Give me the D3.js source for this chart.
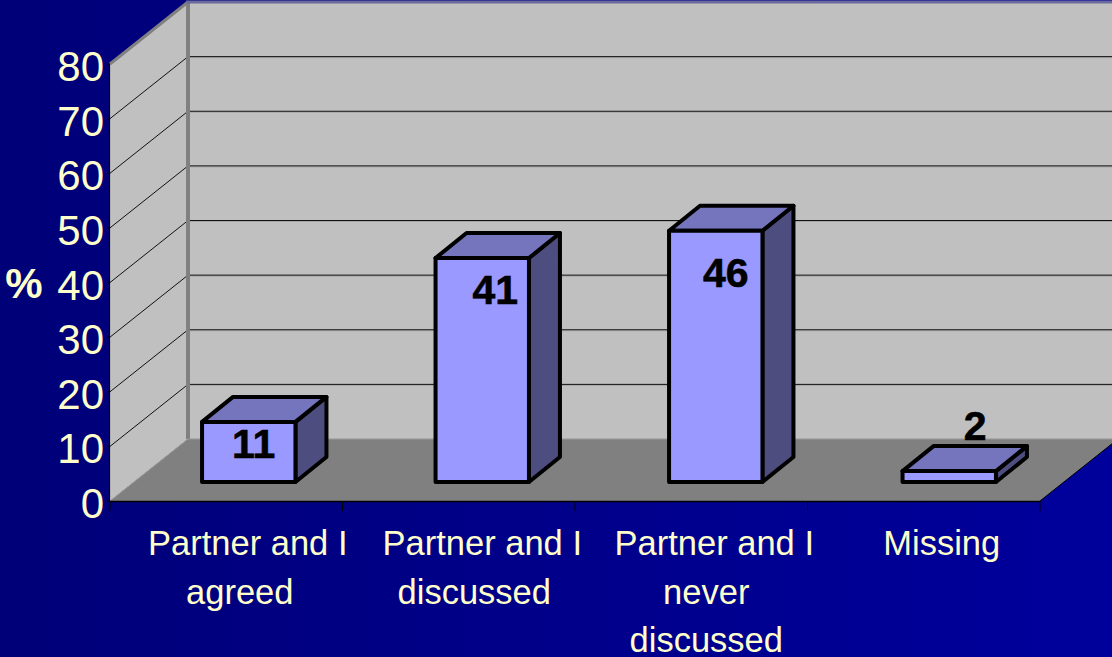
<!DOCTYPE html>
<html><head><meta charset="utf-8">
<script src="https://cdn.jsdelivr.net/npm/d3@7/dist/d3.min.js"></script>
<style>html,body{margin:0;padding:0;background:#000080;overflow:hidden}svg{display:block}text{font-family:"Liberation Sans",Arial,sans-serif}</style>
</head><body><div id="c"></div>
<script>
const categories = [["Partner and I","agreed"],["Partner and I","discussed"],["Partner and I","never","discussed"],["Missing"]];
const values = [11,41,46,2];
const valueLabels = ["11","41","46","2"];
const yTicks = [0,10,20,30,40,50,60,70,80];
const yAxisTitle = "%";

(function(){
const W=1112,H=657;
const svg=d3.select("#c").append("svg").attr("width",W).attr("height",H);
const defs=svg.append("defs");
const g=defs.append("linearGradient").attr("id","bg").attr("x1",0).attr("x2",1).attr("y1",0).attr("y2",0);
g.append("stop").attr("offset","0%").attr("stop-color","#000078");
g.append("stop").attr("offset","100%").attr("stop-color","#00009c");
svg.append("rect").attr("width",W).attr("height",H).attr("fill","url(#bg)");

const x0=110,x1=1040,yBase=501,yTop=64;
const DX=78,DY=-62;
const y=d3.scaleLinear().domain([0,80]).range([yBase,yTop]);
const x=d3.scaleBand().domain(d3.range(categories.length)).range([132,1066]).paddingInner(0.6).paddingOuter(0.3);
const poly=p=>p.map(q=>q.join(",")).join(" ");
const inner=yTicks.filter(d=>d>0&&d<80);

// walls
svg.append("polygon").attr("points",poly([[x0,y(0)],[x0+DX,y(0)+DY],[x0+DX,y(80)+DY],[x0,y(80)]])).attr("fill","#c0c0c0");
svg.append("polygon").attr("points",poly([[x0+DX,y(0)+DY],[W+2,y(0)+DY],[W+2,y(80)+DY],[x0+DX,y(80)+DY]])).attr("fill","#c0c0c0");
svg.append("polygon").attr("points",poly([[x0,y(0)],[x1,y(0)],[x1+DX,y(0)+DY],[x0+DX,y(0)+DY]])).attr("fill","#808080");

// gridlines
svg.append("g").selectAll("line").data(inner).join("line")
 .attr("x1",x0).attr("y1",d=>y(d)).attr("x2",x0+DX).attr("y2",d=>y(d)+DY).attr("stroke","#111").attr("stroke-width",1);
svg.append("g").selectAll("line").data(inner).join("line")
 .attr("x1",x0+DX).attr("y1",d=>y(d)+DY+1).attr("x2",W).attr("y2",d=>y(d)+DY+1).attr("stroke","#a4a4a4").attr("stroke-width",1);
svg.append("g").selectAll("line").data(inner).join("line")
 .attr("x1",x0+DX).attr("y1",d=>y(d)+DY).attr("x2",W).attr("y2",d=>y(d)+DY).attr("stroke","#111").attr("stroke-width",1);

// wall edges
svg.append("line").attr("x1",x0+DX).attr("x2",x0+DX).attr("y1",y(80)+DY).attr("y2",y(0)+DY).attr("stroke","#808080").attr("stroke-width",4);
svg.append("line").attr("x1",x0).attr("y1",y(80)).attr("x2",x0+DX).attr("y2",y(80)+DY).attr("stroke","#808080").attr("stroke-width",3);
svg.append("line").attr("x1",x0+DX-2).attr("x2",W).attr("y1",y(80)+DY).attr("y2",y(80)+DY).attr("stroke","#6a6a9c").attr("stroke-width",3);
svg.append("line").attr("x1",x0).attr("y1",y(0)).attr("x2",x0+DX).attr("y2",y(0)+DY).attr("stroke","#a0a0a0").attr("stroke-width",1);
svg.append("line").attr("x1",x0+DX).attr("x2",W).attr("y1",y(0)+DY).attr("y2",y(0)+DY).attr("stroke","#999").attr("stroke-width",1);

// axes
svg.append("line").attr("x1",x0-0.5).attr("x2",x0-0.5).attr("y1",y(80)).attr("y2",y(0)+1).attr("stroke","#000").attr("stroke-width",1.2);
svg.append("line").attr("x1",x0).attr("x2",x1).attr("y1",y(0)+.5).attr("y2",y(0)+.5).attr("stroke","#000").attr("stroke-width",1.4);
svg.append("line").attr("x1",x1).attr("x2",x1+DX).attr("y1",y(0)).attr("y2",y(0)+DY).attr("stroke","#000").attr("stroke-width",1);
svg.append("g").selectAll("line").data(yTicks).join("line").attr("x1",x0-3).attr("x2",x0).attr("y1",d=>y(d)).attr("y2",d=>y(d)).attr("stroke","#000");
const xTickScale=d3.scaleLinear().domain([0,categories.length]).range([x0,x1]);
svg.append("g").selectAll("line").data(d3.range(categories.length+1)).join("line")
 .attr("x1",d=>xTickScale(d)).attr("x2",d=>xTickScale(d)).attr("y1",y(0)).attr("y2",y(0)+10).attr("stroke","#000");

const cream="#ffffcc";
svg.append("g").selectAll("text").data(yTicks).join("text")
 .attr("x",x0-6).attr("y",d=>y(d)+17).attr("text-anchor","end").attr("font-size",42).attr("fill",cream).text(d=>d);
svg.append("text").attr("x",24).attr("y",298).attr("text-anchor","middle").attr("font-size",42).attr("font-weight","bold").attr("fill",cream).text(yAxisTitle);

const catShift=[21.5,23.5,23,18];
categories.forEach((lines,i)=>{
  const cx=xTickScale(i+0.5)+catShift[i];
  lines.forEach((t,j)=>svg.append("text").attr("x",cx-(j>0?8:0)).attr("y",555+j*48.7).attr("text-anchor","middle").attr("font-size",34.5).attr("fill",cream).text(t));
});

// bars
const bY=482, bDX=31, bDY=-25, unit=(yBase-yTop)/80;
const labelOffsets=[[5,36],[13,46],[10,56],[26,-31]];
const bars=svg.append("g").selectAll("g").data(values).join("g");
const barTop=d=>bY-d*unit;
function st(s){return s.attr("stroke","#000").attr("stroke-width",4).attr("stroke-linejoin","round");}
st(bars.append("polygon").attr("points",(d,i)=>{const a=x(i),b=a+x.bandwidth();return poly([[b,bY],[b+bDX,bY+bDY],[b+bDX,barTop(d)+bDY],[b,barTop(d)]]);}).attr("fill","#4d4d80"));
st(bars.append("polygon").attr("points",(d,i)=>{const a=x(i),b=a+x.bandwidth();return poly([[a,barTop(d)],[b,barTop(d)],[b+bDX,barTop(d)+bDY],[a+bDX,barTop(d)+bDY]]);}).attr("fill","#7575bd"));
st(bars.append("rect").attr("x",(d,i)=>x(i)).attr("y",d=>barTop(d)).attr("width",x.bandwidth()).attr("height",d=>d*unit).attr("fill","#9999ff"));
bars.append("text").attr("x",(d,i)=>x(i)+x.bandwidth()/2+labelOffsets[i][0]).attr("y",(d,i)=>barTop(d)+labelOffsets[i][1])
 .attr("text-anchor","middle").attr("font-size",41).attr("font-weight","bold").attr("fill","#000").attr("stroke","#000").attr("stroke-width",0.6).text((d,i)=>valueLabels[i]);
})();
</script></body></html>
